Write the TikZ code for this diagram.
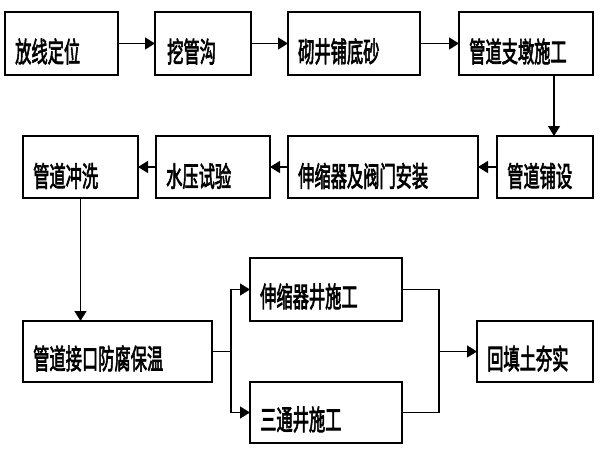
\documentclass[tikz,border=0pt]{standalone}
\usepackage{fontspec}
\usepackage{graphicx}
\newfontfamily\cjk[FakeBold=3]{Noto Sans CJK SC}
\usetikzlibrary{arrows.meta}
\newcommand{\tx}[1]{\scalebox{0.65}[1.12]{#1}}
\tikzset{
  box/.style={draw=black, line width=1.4pt, inner sep=0pt, outer sep=0pt, anchor=north west, fill=white},
  lbl/.style={anchor=west, inner sep=0pt, font=\fontsize{25pt}{25pt}\selectfont\cjk},
  conn/.style={line width=1.3pt, draw=black},
  arr/.style={conn, -{Triangle[length=10pt,width=12pt]}},
}
\begin{document}
\begin{tikzpicture}[x=1pt,y=-1pt]
\useasboundingbox[fill=white] (0,0) rectangle (600,450);
% row 1
\node[box, minimum width=113pt, minimum height=63pt] (b1) at (5,12) {};
\node[box, minimum width=96pt, minimum height=63pt] (b2) at (155,12) {};
\node[box, minimum width=132pt, minimum height=63pt] (b3) at (288,12) {};
\node[box, minimum width=134pt, minimum height=63pt] (b4) at (459,12) {};
% row 2
\node[box, minimum width=115pt, minimum height=62pt] (b5) at (23,136) {};
\node[box, minimum width=114pt, minimum height=62pt] (b6) at (156,136) {};
\node[box, minimum width=190pt, minimum height=62pt] (b7) at (288,136) {};
\node[box, minimum width=96pt, minimum height=62pt] (b8) at (497,136) {};
% row 3
\node[box, minimum width=189pt, minimum height=61pt] (b9) at (23,321) {};
\node[box, minimum width=152pt, minimum height=63pt] (b10) at (250,258) {};
\node[box, minimum width=152pt, minimum height=61pt] (b11) at (250,382) {};
\node[box, minimum width=116pt, minimum height=61pt] (b12) at (477,321) {};
% labels
\node[lbl] (t1) at ([xshift=10pt,yshift=-8pt]b1.west) {\tx{放线定位}};
\node[lbl] (t2) at ([xshift=12pt,yshift=-8pt]b2.west) {\tx{挖管沟}};
\node[lbl] (t3) at ([xshift=10pt,yshift=-8pt]b3.west) {\tx{砌井铺底砂}};
\node[lbl] (t4) at ([xshift=10pt,yshift=-8pt]b4.west) {\tx{管道支墩施工}};
\node[lbl] (t5) at ([xshift=10pt,yshift=-9pt]b5.west) {\tx{管道冲洗}};
\node[lbl] (t6) at ([xshift=10pt,yshift=-9pt]b6.west) {\tx{水压试验}};
\node[lbl] (t7) at ([xshift=10pt,yshift=-9pt]b7.west) {\tx{伸缩器及阀门安装}};
\node[lbl] (t8) at ([xshift=10pt,yshift=-9pt]b8.west) {\tx{管道铺设}};
\node[lbl] (t9) at ([xshift=10pt,yshift=-7pt]b9.west) {\tx{管道接口防腐保温}};
\node[lbl] (t10) at ([xshift=10pt,yshift=-7pt]b10.west) {\tx{伸缩器井施工}};
\node[lbl] (t11) at ([xshift=10pt,yshift=-7pt]b11.west) {\tx{三通井施工}};
\node[lbl] (t12) at ([xshift=10pt,yshift=-7pt]b12.west) {\tx{回填土夯实}};
% connectors
\draw[arr] (b1.east) -- (b2.west);
\draw[arr] (b2.east) -- (b3.west);
\draw[arr] (b3.east) -- (b4.west);
\coordinate (c48) at (554,0);
\draw[arr] (b4.south -| c48) -- (b8.north -| c48);
\draw[arr] (b8.west) -- (b7.east);
\draw[arr] (b7.west) -- (b6.east);
\draw[arr] (b6.west) -- (b5.east);
\draw[arr] (b5.south) -- (b9.north -| b5.south);
\coordinate (s) at (231,0);
\coordinate (m) at (439,0);
\draw[conn] (b9.east) -- (b9.east -| s);
\draw[arr] (b9.east -| s) |- (b10.west);
\draw[arr] (b9.east -| s) |- (b11.west);
\draw[conn] (b10.east) -| (m |- b12.west);
\draw[conn] (b11.east) -| (m |- b12.west);
\draw[arr] (m |- b12.west) -- (b12.west);
\end{tikzpicture}
\end{document}
